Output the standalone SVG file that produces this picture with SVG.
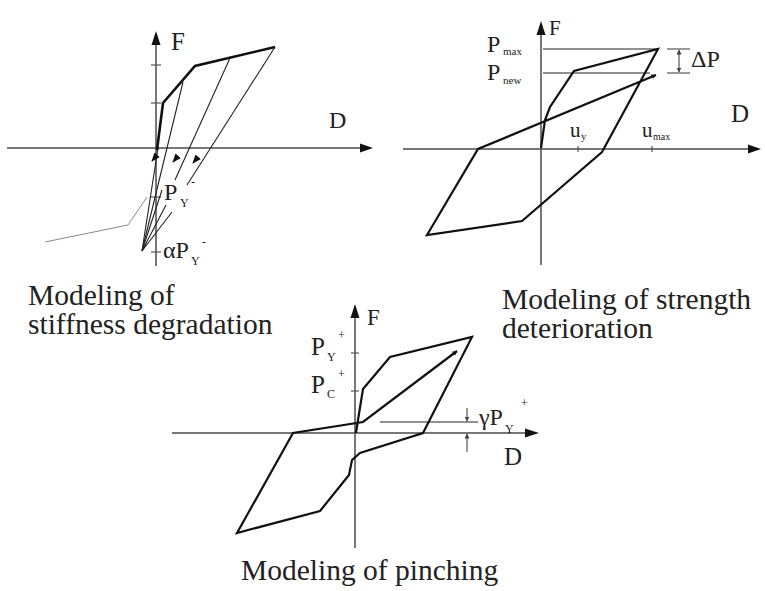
<svg xmlns="http://www.w3.org/2000/svg" width="765" height="591" viewBox="0 0 765 591">
<defs>
<style>
.ax{stroke:#4a4a4a;stroke-width:1.5;fill:none}
.ah{fill:#111}
.tk{stroke:#555;stroke-width:1.2}
.crv{stroke:#111;stroke-width:2.2;fill:none;stroke-linejoin:miter}
.thk{stroke:#111;stroke-width:2.6;fill:none}
.thin{stroke:#222;stroke-width:1.1;fill:none}
.gr{stroke:#8a8a8a;stroke-width:1;fill:none}
text{font-family:"Liberation Serif","Times New Roman",serif;fill:#222}
.cap{font-size:29.5px}
</style>
<marker id="arr" viewBox="0 0 10 10" refX="9" refY="5" markerWidth="5" markerHeight="5" orient="auto" markerUnits="userSpaceOnUse">
<path d="M0,0 L10,5 L0,10 z" fill="#111"/>
</marker>
<marker id="arrS" viewBox="0 0 10 10" refX="9" refY="5" markerWidth="9" markerHeight="9" orient="auto" markerUnits="userSpaceOnUse">
<path d="M0,1 L10,5 L0,9 z" fill="#111"/>
</marker>
<marker id="arrT" viewBox="0 0 10 10" refX="9" refY="5" markerWidth="5" markerHeight="5" orient="auto" markerUnits="userSpaceOnUse">
<path d="M0,0 L10,5 L0,10 z" fill="#444"/>
</marker>
</defs>
<rect width="765" height="591" fill="#fff"/>

<g id="stiffness-degradation">
<line class="ax" x1="7" y1="148" x2="362" y2="148"/>
<polygon class="ah" points="373,148 360,143.5 360,152.5"/>
<line class="ax" x1="156" y1="266" x2="156" y2="44"/>
<polygon class="ah" points="156,31 151.5,45 160.5,45"/>
<line class="tk" x1="151" y1="65" x2="161" y2="65"/>
<line class="tk" x1="151" y1="103" x2="161" y2="103"/>
<line class="tk" x1="151" y1="197" x2="161" y2="197"/>
<line class="tk" x1="151" y1="252" x2="161" y2="252"/>
<polyline class="gr" points="45,242 128,225 147,197"/>
<polyline class="thin" points="275,47 187,185"/>
<polyline class="thin" points="230,58 175,180"/>
<polyline class="thin" points="183,82 142,251"/>
<polyline class="thin" points="158,148 142,251"/>
<polyline class="thin" points="166,205 142,251 172,212"/>
<polyline class="thin" points="162,190 142,251"/>
<polyline class="thk" points="157,150 163,103 195,66 275,47"/>
<line class="thin" x1="157" y1="155" x2="152" y2="161" marker-end="url(#arrS)"/>
<line class="thin" x1="178" y1="156" x2="173" y2="162" marker-end="url(#arrS)"/>
<line class="thin" x1="198" y1="157" x2="193" y2="163" marker-end="url(#arrS)"/>
<text x="171" y="50" style="font-size:25px">F</text>
<text x="329" y="128" style="font-size:24px">D</text>
<text x="164" y="200" style="font-size:24px">P<tspan x="180" y="207" style="font-size:12px">Y</tspan><tspan x="191" y="186" style="font-size:12px">-</tspan></text>
<text x="163" y="258" style="font-size:24px">αP<tspan x="191" y="265" style="font-size:12px">Y</tspan><tspan x="202" y="246" style="font-size:12px">-</tspan></text>
</g>

<g id="strength-deterioration">
<line class="ax" x1="403" y1="149" x2="750" y2="149"/>
<polygon class="ah" points="761,149 748,144.5 748,153.5"/>
<line class="ax" x1="541" y1="265" x2="541" y2="34"/>
<polygon class="ah" points="541,21 536.5,35 545.5,35"/>
<line class="tk" x1="578" y1="146" x2="578" y2="152"/>
<line class="tk" x1="652" y1="146" x2="652" y2="152"/>
<line class="thin" x1="543" y1="49" x2="658" y2="49"/>
<line class="thin" x1="543" y1="73" x2="650" y2="73"/>
<polyline class="crv" points="541,148 545,120 550,107 574,71 658,49 602,152 522,221 427,235 478,149 656,75" marker-end="url(#arr)"/>
<line class="tk" x1="667" y1="49" x2="690" y2="49"/>
<line class="tk" x1="667" y1="73" x2="690" y2="73"/>
<line class="tk" x1="679" y1="61" x2="679" y2="50" marker-end="url(#arrT)"/>
<line class="tk" x1="679" y1="61" x2="679" y2="72" marker-end="url(#arrT)"/>
<text x="549" y="35" style="font-size:21px">F</text>
<text x="487" y="52" style="font-size:24px">P<tspan x="503" y="55" style="font-size:11px">max</tspan></text>
<text x="487" y="80" style="font-size:24px">P<tspan x="503" y="84" style="font-size:11px">new</tspan></text>
<text x="691" y="67" style="font-size:24px">ΔP</text>
<text x="731" y="122" style="font-size:25px">D</text>
<text x="570" y="137" style="font-size:21px">u<tspan x="581" y="140" style="font-size:11px">y</tspan></text>
<text x="642" y="137" style="font-size:21px">u<tspan x="653" y="140" style="font-size:10px">max</tspan></text>
</g>

<g id="pinching">
<line class="ax" x1="172" y1="433" x2="526" y2="433"/>
<polygon class="ah" points="539,433 525,428.5 525,437.5"/>
<line class="ax" x1="355" y1="548" x2="355" y2="318"/>
<polygon class="ah" points="355,304 350.5,318 359.5,318"/>
<line class="tk" x1="351" y1="353" x2="359" y2="353"/>
<line class="tk" x1="351" y1="391" x2="359" y2="391"/>
<line class="thin" x1="380" y1="422" x2="478" y2="422"/>
<line class="tk" x1="467" y1="408" x2="467" y2="421" marker-end="url(#arrT)"/>
<line class="tk" x1="467" y1="452" x2="467" y2="434" marker-end="url(#arrT)"/>
<polyline class="crv" points="356,433 358,420 363,389 390,357 472,337 423,433 360,453 352,460 349,475 320,511 237,533 293,433 363,422 457,351" marker-end="url(#arr)"/>
<text x="367" y="325" style="font-size:23px">F</text>
<text x="311" y="355" style="font-size:25px">P<tspan x="327" y="361" style="font-size:12px">Y</tspan><tspan x="338" y="339" style="font-size:12px">+</tspan></text>
<text x="311" y="393" style="font-size:25px">P<tspan x="327" y="398" style="font-size:12px">C</tspan><tspan x="338" y="378" style="font-size:12px">+</tspan></text>
<text x="479" y="425" style="font-size:24px">γP<tspan x="505" y="433" style="font-size:12px">Y</tspan><tspan x="521" y="407" style="font-size:12px">+</tspan></text>
<text x="504" y="465" style="font-size:25px">D</text>
</g>

<g id="captions">
<text class="cap" x="28" y="305">Modeling of</text>
<text class="cap" x="28" y="334">stiffness degradation</text>
<text class="cap" x="502" y="309">Modeling of strength</text>
<text class="cap" x="502" y="338">deterioration</text>
<text class="cap" x="241" y="580">Modeling of pinching</text>
</g>
</svg>
